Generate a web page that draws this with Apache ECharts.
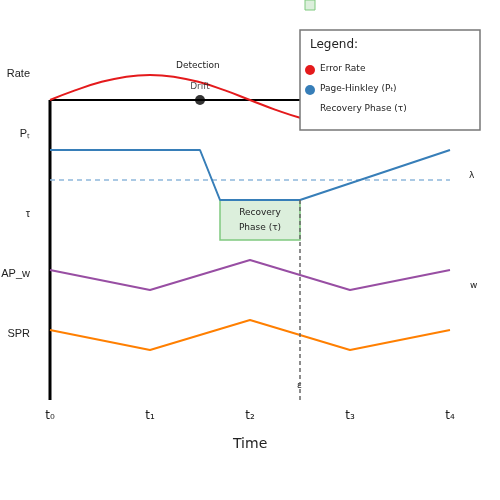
<!DOCTYPE html>
<html><head><meta charset="utf-8">
<script src="https://cdn.jsdelivr.net/npm/echarts@6/dist/echarts.min.js"></script>
</head><body style="margin:0">
<div id="c" style="width:500px;height:500px"></div>
<script>
// y values are in "diagram units": 400 at top, 0 at time axis
var tickLabels = ['t₀','t₁','t₂','t₃','t₄'];
var errorRate = [[0,300],[0.25,309.6],[0.5,317.7],[0.75,323.1],[1,325],[1.25,323.1],[1.5,317.7],[1.75,309.6],[2,300],[2.25,290.4],[2.5,282.3],[2.75,276.9],[3,275]];
var baseline = [[0,300],[4,300]];
var axisLine = [[0,0],[0,300]];
var drift = [[1.5,300]];
var pageHinkley = [[0,250],[1.5,250],[1.7,200],[2.5,200],[4,250]];
var lambda = [[0,220],[4,220]];
var apw = [[0,130],[1,110],[2,140],[3,110],[4,130]];
var spr = [[0,70],[1,50],[2,80],[3,50],[4,70]];
var recovery = [[1.7,200],[2.5,160]];
var epsilon = [[2.5,200],[2.5,0]];
var rowLabels = [['Rate',324],['Pₜ',264],['τ',184],['AP_w',124],['SPR',64]];

var ch = echarts.init(document.getElementById('c'));
var F = 'DejaVu Sans';
function ln(d,c,w,extra){return Object.assign({type:'line',data:d,symbol:'none',lineStyle:{color:c,width:w},z:3,animation:false},extra||{});}
ch.setOption({
  animation:false,
  textStyle:{fontFamily:F},
  grid:{left:50,right:50,top:0,bottom:100},
  xAxis:{type:'value',min:0,max:4,interval:1,axisLine:{show:false},axisTick:{show:false},splitLine:{show:false},
    axisLabel:{formatter:function(v){return tickLabels[v];},color:'#222',fontSize:12,margin:10,fontFamily:F}},
  yAxis:{type:'value',min:0,max:400,show:false},
  series:[
    ln(baseline,'#000',2),
    ln(axisLine,'#000',3),
    ln(errorRate,'#e41a1c',2,{smooth:true}),
    ln(lambda,'#8fb8dc',1.5,{lineStyle:{color:'#8fb8dc',width:1.5,type:[5,4]}}),
    ln(recovery.length?[[1.7,200],[2.5,200]]:[],'#2e8b57',2,{z:2}),
    ln(pageHinkley,'#377eb8',2),
    ln(apw,'#984ea3',2),
    ln(spr,'#ff7f00',2),
    ln(epsilon,'#666',1.5,{lineStyle:{color:'#666',width:1.5,type:[4,3]},z:4}),
    {type:'line',data:[],markArea:{silent:true,itemStyle:{color:'#dcefdc',borderColor:'#7fc97f',borderWidth:1.5},
      label:{show:true,position:'inside',formatter:'Recovery\nPhase (τ)',color:'#222',fontSize:9,lineHeight:15,fontFamily:F},
      data:[[{coord:recovery[0]},{coord:recovery[1]}]]},z:1},
    {type:'scatter',data:drift,symbolSize:10,itemStyle:{color:'#000'},z:5,
      label:{show:true,position:'top',distance:4,formatter:'Drift',color:'#222',fontSize:9,fontFamily:F}}
  ],
  graphic:[].concat(rowLabels.map(function(r){return {type:'text',right:470,top:400-r[1]-8,style:{text:r[0],fontSize:11,fill:'#222',font:'11px '+F,align:'right'}};}),[
    {type:'text',left:176,top:61,style:{text:'Detection',font:'9px '+F,fill:'#222'}},
    {type:'text',left:469,top:171,style:{text:'λ',font:'9px '+F,fill:'#222'}},
    {type:'text',left:470,top:281,style:{text:'w',font:'9px '+F,fill:'#222'}},
    {type:'text',left:297,top:381,style:{text:'ε',font:'9px '+F,fill:'#222'}},
    {type:'text',left:233,top:437,style:{text:'Time',font:'14px '+F,fill:'#222'}},
    {type:'rect',shape:{x:305,y:0,width:10,height:10},style:{fill:'#dcefdc',stroke:'#7fc97f',lineWidth:1},z:100},
    {type:'rect',shape:{x:300,y:30,width:180,height:100},style:{fill:'#fff',stroke:'#777',lineWidth:1.5},z:100},
    {type:'text',left:310,top:39,z:101,style:{text:'Legend:',font:'12px '+F,fill:'#222'}},
    {type:'circle',shape:{cx:310,cy:70,r:5},style:{fill:'#e41a1c'},z:101},
    {type:'circle',shape:{cx:310,cy:90,r:5},style:{fill:'#377eb8'},z:101},
    {type:'text',left:320,top:64,z:101,style:{text:'Error Rate',font:'9px '+F,fill:'#222'}},
    {type:'text',left:320,top:84,z:101,style:{text:'Page-Hinkley (Pₜ)',font:'9px '+F,fill:'#222'}},
    {type:'text',left:320,top:104,z:101,style:{text:'Recovery Phase (τ)',font:'9px '+F,fill:'#222'}}
  ])
});
</script></body></html>
